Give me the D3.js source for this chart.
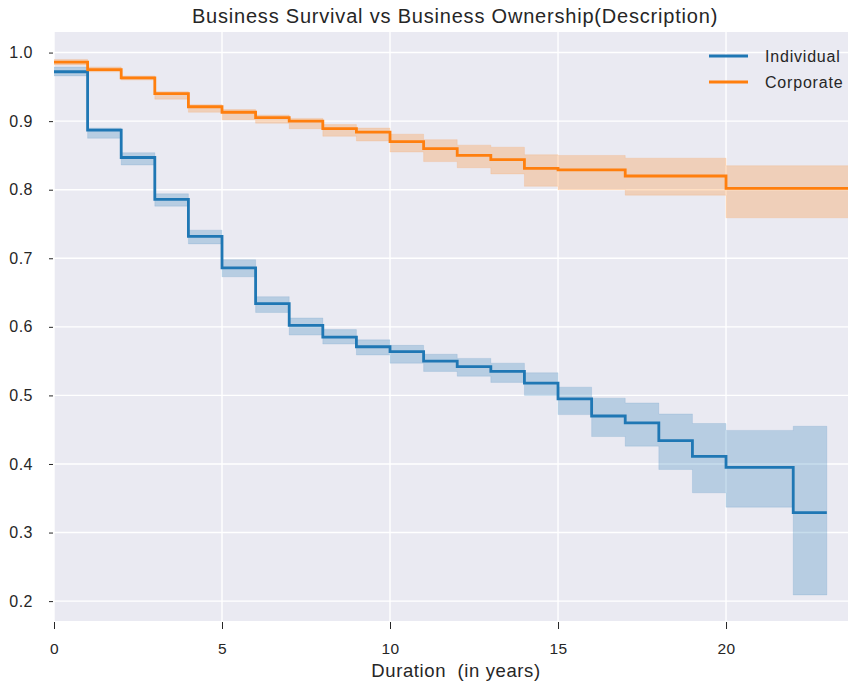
<!DOCTYPE html>
<html>
<head>
<meta charset="utf-8">
<script src="https://cdn.jsdelivr.net/npm/d3@7"></script>
<style>
  body { margin: 0; background: #fff; }
  text { font-family: "Liberation Sans", Arial, sans-serif; fill: #262626; }
  .grid line { stroke: #fff; stroke-width: 1.4; }
  .axis path { display: none; }
  .axis line { stroke: #262626; }
</style>
</head>
<body>
<svg width="848" height="685"></svg>
<script>
// Individual ownership: step times, survival estimate, confidence band
var indTimes = [0, 1, 2, 3, 4, 5, 6, 7, 8, 9, 10, 11, 12, 13, 14, 15, 16, 17, 18, 19, 20, 22, 23];
var indSurv  = [0.972, 0.887, 0.847, 0.786, 0.732, 0.686, 0.634, 0.602, 0.585, 0.571, 0.564, 0.550, 0.542, 0.535, 0.518, 0.495, 0.470, 0.460, 0.434, 0.411, 0.395, 0.329, 0.329];
var indLower = [0.966, 0.875, 0.836, 0.776, 0.721, 0.673, 0.621, 0.588, 0.575, 0.559, 0.547, 0.535, 0.528, 0.519, 0.500, 0.472, 0.440, 0.426, 0.392, 0.358, 0.337, 0.209, 0.209];
var indUpper = [0.979, 0.890, 0.854, 0.794, 0.741, 0.698, 0.644, 0.613, 0.596, 0.581, 0.573, 0.560, 0.554, 0.547, 0.533, 0.512, 0.496, 0.489, 0.473, 0.459, 0.449, 0.455, 0.455];

// Corporate ownership
var corpTimes = [0, 1, 2, 3, 4, 5, 6, 7, 8, 9, 10, 11, 12, 13, 14, 15, 17, 20, 25];
var corpSurv  = [0.986, 0.975, 0.963, 0.940, 0.921, 0.913, 0.905, 0.900, 0.889, 0.884, 0.870, 0.860, 0.850, 0.844, 0.831, 0.829, 0.820, 0.802, 0.802];
var corpLower = [0.982, 0.972, 0.960, 0.932, 0.913, 0.902, 0.897, 0.889, 0.878, 0.871, 0.855, 0.841, 0.832, 0.823, 0.805, 0.800, 0.792, 0.759, 0.759];
var corpUpper = [0.990, 0.979, 0.966, 0.943, 0.924, 0.917, 0.909, 0.904, 0.895, 0.890, 0.881, 0.873, 0.865, 0.862, 0.851, 0.850, 0.846, 0.835, 0.835];

var xTicks = [0, 5, 10, 15, 20];
var yTicks = [0.2, 0.3, 0.4, 0.5, 0.6, 0.7, 0.8, 0.9, 1.0];

var series = [
  {name: "Individual", color: "#1f77b4", t: indTimes, s: indSurv, lo: indLower, hi: indUpper},
  {name: "Corporate", color: "#ff7f0e", t: corpTimes, s: corpSurv, lo: corpLower, hi: corpUpper}
];

var svg = d3.select("svg"),
    margin = {top: 32, right: 0, bottom: 64, left: 54},
    width = 848 - margin.left - margin.right,
    height = 685 - margin.top - margin.bottom,
    g = svg.append("g").attr("transform", "translate(" + margin.left + "," + margin.top + ")");

var x = d3.scaleLinear().domain([0, 23.63]).range([0, width]);
var y = d3.scaleLinear().domain([0.171, 1.030]).range([height, 0]);

g.append("rect")
    .attr("width", width)
    .attr("height", height)
    .attr("fill", "#eaeaf2");

g.append("clipPath").attr("id", "clip")
  .append("rect").attr("width", width).attr("height", height);

//grid
g.append("g")
    .attr("class", "grid")
    .selectAll("line").data(xTicks).enter().append("line")
    .attr("x1", d => x(d)).attr("x2", d => x(d))
    .attr("y1", 0).attr("y2", height);
g.append("g")
    .attr("class", "grid")
    .selectAll("line").data(yTicks).enter().append("line")
    .attr("y1", d => y(d)).attr("y2", d => y(d))
    .attr("x1", 0).attr("x2", width);

//axes
var xAxis = g.append("g")
    .attr("class", "axis")
    .attr("transform", "translate(0," + height + ")")
    .call(d3.axisBottom(x).tickValues(xTicks).tickSize(8).tickPadding(14).tickFormat(d3.format("d")));
xAxis.selectAll("line").attr("y1", 1);
xAxis.selectAll("text").style("font-size", "15.5px").style("letter-spacing", "0.4px").attr("fill", "#262626");

var yAxis = g.append("g")
    .attr("class", "axis")
    .call(d3.axisLeft(y).tickValues(yTicks).tickSize(5).tickPadding(16).tickFormat(d3.format(".1f")));
yAxis.selectAll("line").attr("x1", -1);
yAxis.selectAll("text").style("font-size", "16px").style("letter-spacing", "0.5px").attr("fill", "#262626");

var plot = g.append("g").attr("clip-path", "url(#clip)");

series.forEach(function(sr) {
  var pts = sr.t.map(function(t, i) { return {t: t, s: sr.s[i], lo: sr.lo[i], hi: sr.hi[i]}; });
  var band = d3.area()
      .x(d => x(d.t))
      .y0(d => y(d.lo))
      .y1(d => y(d.hi))
      .curve(d3.curveStepAfter);
  var line = d3.line()
      .x(d => x(d.t))
      .y(d => y(d.s))
      .curve(d3.curveStepAfter);
  plot.append("path")
      .attr("d", band(pts))
      .attr("fill", sr.color)
      .attr("fill-opacity", 0.25)
      .attr("stroke", sr.color)
      .attr("stroke-opacity", 0.12)
      .attr("stroke-width", 1);
  plot.append("path")
      .attr("d", line(pts))
      .attr("fill", "none")
      .attr("stroke", sr.color)
      .attr("stroke-width", 2.8);
});

//legend
var legend = g.selectAll(".legend").data(series).enter().append("g")
    .attr("transform", (d, i) => "translate(" + (709 - margin.left) + "," + (56 - margin.top + i * 26) + ")");
legend.append("line")
    .attr("x1", 0).attr("x2", 39)
    .attr("stroke", d => d.color)
    .attr("stroke-width", 2.8);
legend.append("text")
    .attr("x", 56).attr("dy", "0.35em")
    .style("font-size", "16px")
    .style("letter-spacing", "0.8px")
    .text(d => d.name);

//title and label
svg.append("text")
    .attr("x", 455).attr("y", 23)
    .attr("text-anchor", "middle")
    .style("font-size", "20px")
    .style("letter-spacing", "0.8px")
    .text("Business Survival vs Business Ownership(Description)");
svg.append("text")
    .attr("x", 456).attr("y", 677)
    .attr("text-anchor", "middle")
    .style("font-size", "18.5px")
    .style("letter-spacing", "0.6px")
    .style("white-space", "pre")
    .text("Duration  (in years)");
</script>
</body>
</html>
